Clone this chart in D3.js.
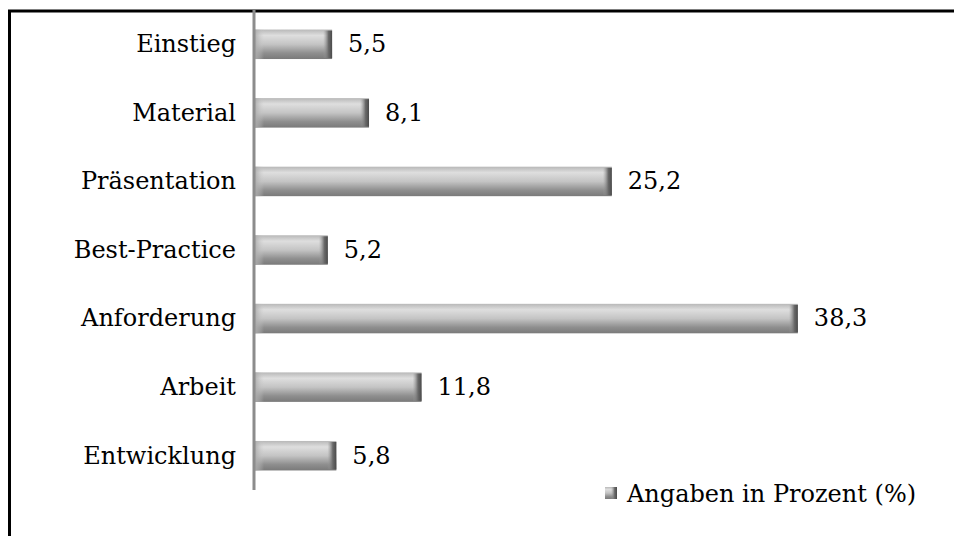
<!DOCTYPE html>
<html><head><meta charset="utf-8">
<script src="https://cdn.jsdelivr.net/npm/d3@7"></script>
<style>html,body{margin:0;padding:0;background:#fff;}svg{display:block;}
text{font-family:"DejaVu Serif","Liberation Serif",serif;}</style>
</head><body>
<svg id="c" width="954" height="536"></svg>
<script>
const categories = ["Einstieg","Material","Präsentation","Best-Practice","Anforderung","Arbeit","Entwicklung"];
const values = [5.5, 8.1, 25.2, 5.2, 38.3, 11.8, 5.8];
const valueLabels = ["5,5","8,1","25,2","5,2","38,3","11,8","5,8"];
const legendLabel = "Angaben in Prozent (%)";

const svg = d3.select("#c");

const defs = svg.append("defs");
const gv = defs.append("linearGradient").attr("id","gv").attr("x1",0).attr("y1",0).attr("x2",0).attr("y2",1);
gv.append("stop").attr("offset","0%").attr("stop-color","#b8b8b8");
gv.append("stop").attr("offset","20%").attr("stop-color","#dedede");
gv.append("stop").attr("offset","50%").attr("stop-color","#c4c4c4");
gv.append("stop").attr("offset","80%").attr("stop-color","#8e8e8e");
gv.append("stop").attr("offset","100%").attr("stop-color","#7a7a7a");
const gc = defs.append("linearGradient").attr("id","gc").attr("x1",0).attr("y1",0).attr("x2",1).attr("y2",0);
gc.append("stop").attr("offset","0%").attr("stop-color","#a0a0a0").attr("stop-opacity",0);
gc.append("stop").attr("offset","60%").attr("stop-color","#6a6a6a");
gc.append("stop").attr("offset","100%").attr("stop-color","#4a4a4a");
const gl = defs.append("linearGradient").attr("id","gl").attr("x1",0).attr("y1",0).attr("x2",1).attr("y2",0);
gl.append("stop").attr("offset","0%").attr("stop-color","#a8a8a8");
gl.append("stop").attr("offset","100%").attr("stop-color","#c8c8c8").attr("stop-opacity",0);

const x = d3.scaleLinear().domain([0, 40]).range([254, 254 + 40*14.2]);
const y = d3.scaleBand().domain(categories).range([10, 490]).paddingInner(0.57).paddingOuter(0.285);

// frame
svg.append("line").attr("x1",8).attr("x2",954).attr("y1",11).attr("y2",11).attr("stroke","#000").attr("stroke-width",3);
svg.append("line").attr("x1",9.5).attr("x2",9.5).attr("y1",10).attr("y2",536).attr("stroke","#000").attr("stroke-width",3);

const g = svg.append("g");
const bars = g.selectAll("g.bar").data(categories).join("g").attr("class","bar");
bars.append("rect")
  .attr("x", x(0)).attr("y", d => y(d))
  .attr("width", (d,i) => x(values[i]) - x(0)).attr("height", y.bandwidth())
  .attr("fill","url(#gv)");
bars.append("rect")
  .attr("x", x(0)).attr("y", d => y(d))
  .attr("width", 10).attr("height", y.bandwidth())
  .attr("fill","url(#gl)");
bars.append("rect")
  .attr("x", (d,i) => x(values[i]) - 9).attr("y", d => y(d) + 1)
  .attr("width", 9).attr("height", y.bandwidth() - 2)
  .attr("fill","url(#gc)");

// axis
svg.append("line").attr("x1", x(0)).attr("x2", x(0)).attr("y1", 10).attr("y2", 490)
  .attr("stroke","#8c8c8c").attr("stroke-width",3);

// category labels
g.selectAll("text.cat").data(categories).join("text").attr("class","cat")
  .attr("x", 236).attr("y", d => y(d) + y.bandwidth()/2)
  .attr("dy","0.33em").attr("text-anchor","end")
  .attr("font-size", 24).attr("fill","#000")
  .text(d => d);

// value labels
g.selectAll("text.val").data(categories).join("text").attr("class","val")
  .attr("x", (d,i) => x(values[i]) + 16).attr("y", d => y(d) + y.bandwidth()/2)
  .attr("dy","0.33em")
  .attr("font-size", 24).attr("fill","#000")
  .text((d,i) => valueLabels[i]);

// legend
const lg = svg.append("g").attr("transform","translate(605,487)");
lg.append("rect").attr("width",12).attr("height",12).attr("fill","url(#gv)");
lg.append("rect").attr("x",6).attr("width",6).attr("height",12).attr("fill","url(#gc)");
lg.append("text").attr("x",22).attr("y",7).attr("dy","0.33em")
  .attr("font-size", 24).attr("fill","#000").text(legendLabel);
</script>
</body></html>
